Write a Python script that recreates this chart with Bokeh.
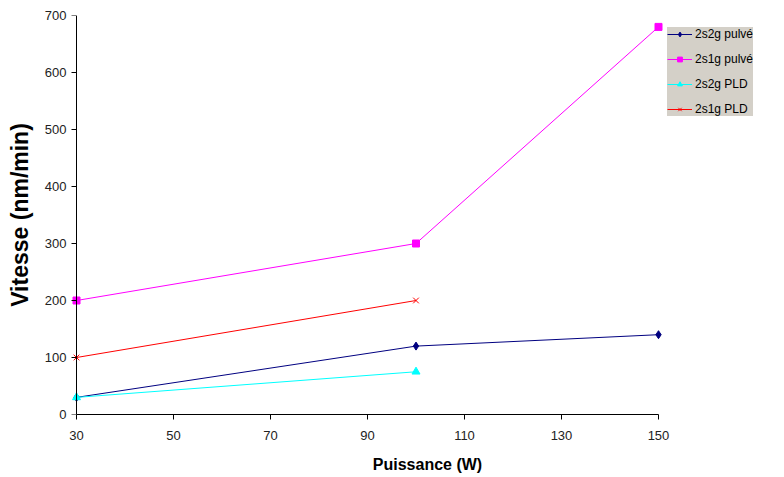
from bokeh.plotting import figure
from bokeh.models import Legend, LegendItem, Range1d, FixedTicker, LinearAxis
from bokeh.embed import file_html
from bokeh.resources import INLINE

# Data
x_pulve = [30, 100, 150]
s2g_pulve = [30, 120, 140]
s1g_pulve = [200, 300, 680]
x_pld = [30, 100]
s2g_pld = [30, 75]
s1g_pld = [100, 200]
x_ticks = [30, 50, 70, 90, 110, 130, 150]
y_ticks = [0, 100, 200, 300, 400, 500, 600, 700]

W, H = 784, 477
AXIS_X = 76          # screen x of x=30
PAD = 6              # room so that markers at x=30 are not clipped
LEFT, TOP, BOTTOM, RIGHT = AXIS_X - PAD, 15, 63, 0
PX_PER_UNIT = 582 / 120.0
x_start = 30 - PAD / PX_PER_UNIT
x_end = 30 + (W - RIGHT - AXIS_X) / PX_PER_UNIT

p = figure(width=W, height=H, output_backend="svg", toolbar_location=None,
           x_range=Range1d(x_start, x_end), y_range=Range1d(0, 700),
           min_border_left=LEFT, min_border_right=RIGHT, min_border_top=TOP, min_border_bottom=BOTTOM)
p.outline_line_color = None
p.xgrid.grid_line_color = None
p.ygrid.grid_line_color = None

FONT = "Liberation Sans"
for ax, ticks in ((p.xaxis[0], x_ticks), (p.yaxis[0], y_ticks)):
    ax.ticker = FixedTicker(ticks=ticks)
    ax.minor_tick_line_color = None
    ax.major_tick_out = 5
    ax.major_tick_in = 0
    ax.axis_line_color = "black"
    ax.major_tick_line_color = "black"
    ax.major_label_text_font = FONT
    ax.major_label_text_font_size = "13px"
    ax.major_label_text_color = "#222222"
    ax.axis_label_text_font = FONT
    ax.axis_label_text_font_style = "bold"
    ax.axis_label_text_color = "black"
p.xaxis.bounds = (30, 150)

# y axis at frame edge: only labels (rule and ticks drawn by a second axis at x=30)
ya = p.yaxis[0]
ya.axis_line_color = None
ya.major_tick_line_color = None
ya.major_tick_out = 0
ya.major_label_standoff = 4
ya.axis_label = "Vitesse (nm/min)"
ya.axis_label_text_font_size = "23px"
ya.axis_label_standoff = 9

rule = LinearAxis(ticker=FixedTicker(ticks=y_ticks), fixed_location=30,
                  axis_line_color="black", major_tick_line_color="black",
                  major_tick_out=5, major_tick_in=0, minor_tick_line_color=None,
                  major_label_text_alpha=0, major_label_text_font_size="1px",
                  major_label_standoff=0)
p.add_layout(rule, "left")

p.xaxis.axis_label = "Puissance (W)"
p.xaxis.axis_label_text_font_size = "16px"
p.xaxis.major_label_standoff = 11
p.xaxis.axis_label_standoff = 13

l1 = p.line(x_pulve, s2g_pulve, line_color="#000080", line_width=1)
m1 = p.scatter(x_pulve, s2g_pulve, marker="diamond", size=8, color="#000080")
l2 = p.line(x_pulve, s1g_pulve, line_color="#ff00ff", line_width=1)
m2 = p.scatter(x_pulve, s1g_pulve, marker="square", size=7, color="#ff00ff")
l3 = p.line(x_pld, s2g_pld, line_color="#00ffff", line_width=1)
m3 = p.scatter(x_pld, s2g_pld, marker="triangle", size=8, color="#00ffff")
l4 = p.line(x_pld, s1g_pld, line_color="#ff0000", line_width=1)
m4 = p.scatter(x_pld, s1g_pld, marker="x", size=8, line_color="#ff0000", line_width=1)

legend = Legend(items=[
    LegendItem(label="2s2g pulvé", renderers=[l1, m1]),
    LegendItem(label="2s1g pulvé", renderers=[l2, m2]),
    LegendItem(label="2s2g PLD", renderers=[l3, m3]),
    LegendItem(label="2s1g PLD", renderers=[l4, m4]),
], location=(667 - LEFT, 414 - 116))
legend.background_fill_color = "#d4d0c8"
legend.background_fill_alpha = 1
legend.border_line_color = None
legend.label_text_font = FONT
legend.label_text_font_size = "12px"
legend.label_text_color = "black"
legend.glyph_width = 25
legend.glyph_height = 12
legend.label_height = 12
legend.spacing = 11
legend.padding = 16
legend.margin = 0
legend.label_standoff = 3
p.add_layout(legend, "center")

open("out.html", "w").write(file_html(p, INLINE))
